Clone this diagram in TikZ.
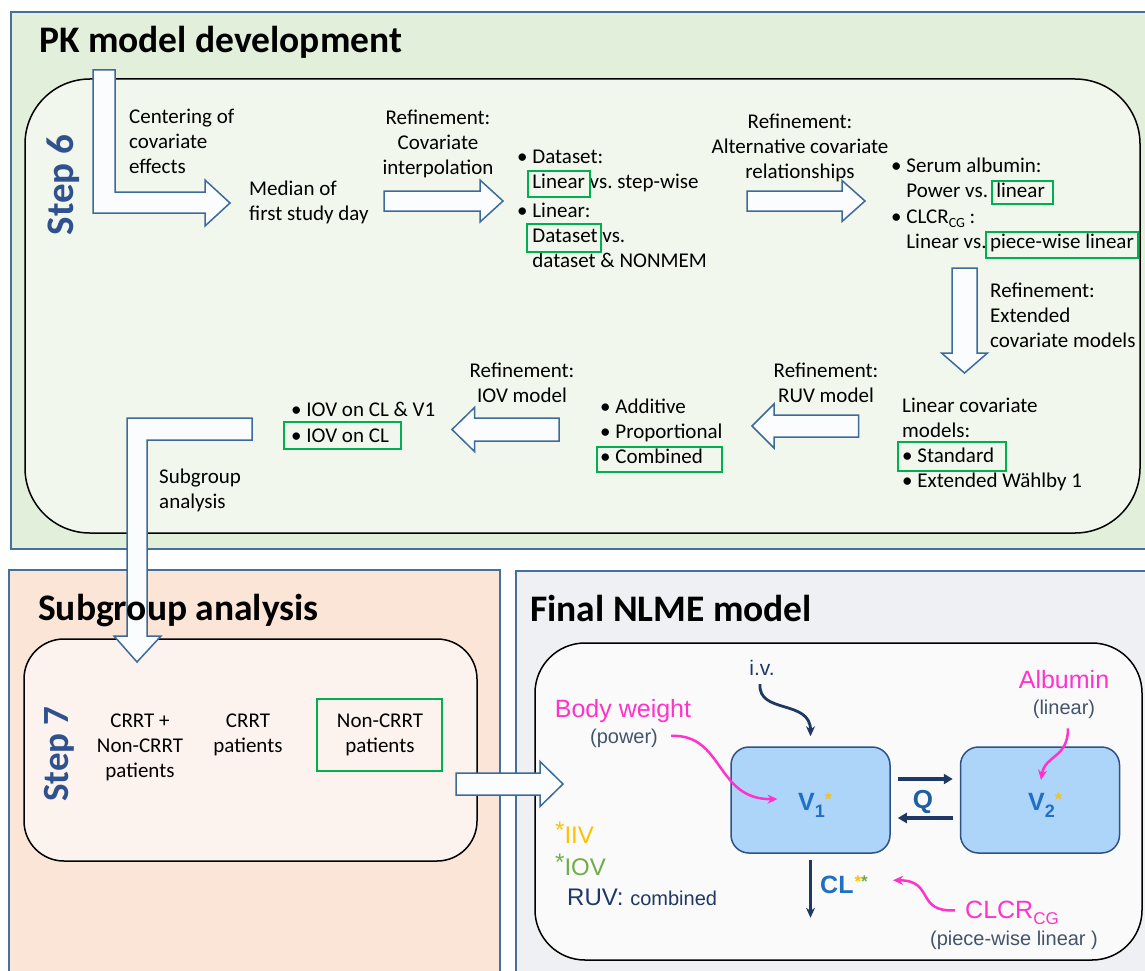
\documentclass[tikz,border=0pt]{standalone}
\usepackage{fontspec}
\setmainfont{Carlito}
\newfontfamily\arialf{Liberation Sans}
\usetikzlibrary{arrows.meta,calc}
\frenchspacing

\definecolor{panelgreen}{HTML}{E2EFDA}
\definecolor{stagegreen}{HTML}{F1F7ED}
\definecolor{panelpeach}{HTML}{FBE5D6}
\definecolor{stagepeach}{HTML}{FDF3EE}
\definecolor{panelgray}{HTML}{EEF0F4}
\definecolor{stagegray}{HTML}{FAFAFA}
\definecolor{panelblue}{HTML}{41719C}
\definecolor{arrowblue}{HTML}{3C6A9A}
\definecolor{arrowfill}{HTML}{FBFCFD}
\definecolor{pickgreen}{HTML}{00B050}
\definecolor{stepblue}{HTML}{2F528F}
\definecolor{vfill}{HTML}{ADD5FA}
\definecolor{vborder}{HTML}{2E5283}
\definecolor{vtext}{HTML}{1F6FC5}
\definecolor{qtext}{HTML}{1F5FA0}
\definecolor{navy}{HTML}{1F3864}
\definecolor{covmag}{HTML}{FF33CC}
\definecolor{subtle}{HTML}{44546A}
\definecolor{starY}{HTML}{FFC000}
\definecolor{starG}{HTML}{70AD47}

% block arrows: start x, tip x, centre y, body half-width, head half-width, head length
\newcommand{\blockright}[6]{\draw[blockarrow] (#1,{#3-#4}) -- ({#2-#6},{#3-#4}) -- ({#2-#6},{#3-#5}) -- (#2,#3) -- ({#2-#6},{#3+#5}) -- ({#2-#6},{#3+#4}) -- (#1,{#3+#4}) -- cycle;}
\newcommand{\blockleft}[6]{\draw[blockarrow] (#1,{#3-#4}) -- ({#2+#6},{#3-#4}) -- ({#2+#6},{#3-#5}) -- (#2,#3) -- ({#2+#6},{#3+#5}) -- ({#2+#6},{#3+#4}) -- (#1,{#3+#4}) -- cycle;}
% centre x, start y, tip y, body half-width, head half-width, head length
\newcommand{\blockdown}[6]{\draw[blockarrow] ({#1-#4},#2) -- ({#1+#4},#2) -- ({#1+#4},{#3-#6}) -- ({#1+#5},{#3-#6}) -- (#1,#3) -- ({#1-#5},{#3-#6}) -- ({#1-#4},{#3-#6}) -- cycle;}

\tikzset{
  body/.style={font=\fontsize{21}{25}\selectfont, inner sep=0pt},
  bodyl/.style={body, align=left, anchor=north west},
  bodyc/.style={body, align=center, anchor=north},
  heading/.style={font=\bfseries\fontsize{37.5}{42}\selectfont, inner sep=0pt, anchor=base west},
  steplabel/.style={font=\bfseries\fontsize{39}{44}\selectfont, text=stepblue, rotate=90, anchor=base, inner sep=0pt},
  panel/.style={draw=panelblue, line width=2pt},
  stagebox/.style={draw=black, line width=1.5pt},
  blockarrow/.style={draw=arrowblue, fill=arrowfill, line width=1.5pt, line join=miter},
  pick/.style={draw=pickgreen, line width=2.5pt},
  vbox/.style={draw=vborder, fill=vfill, line width=1.5pt, rounded corners=18pt, minimum width=159pt, minimum height=106pt},
  vlabel/.style={font=\arialf\bfseries\fontsize{25}{30}\selectfont, text=vtext, anchor=base, inner sep=0pt},
  maglabel/.style={font=\arialf\fontsize{25}{30}\selectfont, text=covmag, anchor=base, inner sep=0pt},
  sublabel/.style={font=\arialf\fontsize{20}{24}\selectfont, text=subtle, anchor=base, inner sep=0pt},
  legend/.style={font=\arialf\fontsize{24}{28}\selectfont, anchor=base west, inner sep=0pt},
  navyarrow/.style={draw=navy, line width=2.8pt, -{Stealth[length=10pt,width=9pt]}},
  qarrow/.style={draw=navy, line width=3.5pt, -{Triangle[length=9pt,width=10pt]}},
  magarrow/.style={draw=covmag, line width=2.5pt, -{Stealth[length=10pt,width=9pt]}},
}

\begin{document}
\begin{tikzpicture}[x=1pt,y=-1pt]
\useasboundingbox (0,0) rectangle (1145,971);
\clip (0,0) rectangle (1145,971);

% ---------- panels ----------
\draw[panel, fill=panelgreen] (11,12) rectangle (1148,549);
\draw[stagebox, fill=stagegreen, rounded corners=65pt] (25,79) rectangle (1140,533);
\draw[panel, fill=panelpeach] (9,570) rectangle (500,975);
\draw[stagebox, fill=stagepeach, rounded corners=40pt] (24,639) rectangle (477,861);
\draw[panel, fill=panelgray] (516,571) rectangle (1148,975);
\draw[stagebox, fill=stagegray, rounded corners=50pt] (535,643) rectangle (1142,960);

% ---------- block arrows ----------
\draw[blockarrow] (93,70) -- (115,70) -- (115,192) -- (205,192) -- (205,180) -- (230,203) -- (205,226) -- (205,213) -- (93,213) -- cycle;
\blockright{384}{503}{201}{10}{21}{23}
\blockright{747}{865}{201}{10}{20.5}{23}
\blockdown{964.5}{268}{373}{12.5}{23}{20}
\blockleft{858.6}{752}{426}{11}{22}{22}
\blockleft{559}{452}{429.5}{11.5}{22}{22.5}
\draw[blockarrow] (252,418) -- (252,440) -- (147,440) -- (147,636) -- (161,636) -- (137,662) -- (114,636) -- (127,636) -- (127,418) -- cycle;
\blockright{456}{563}{784}{11}{22.5}{23}

% ---------- PK model development ----------
\node[heading] (pktitle) at (39,53) {PK model development};
\node[steplabel] (step6) at (73,185) {Step 6};

\node[bodyl] (centering) at (129,105.5) {\strut Centering of\\covariate\\effects};
\node[bodyl] (median) at (249,177.5) {\strut Median of\\first study day};
\node[bodyc] (refinterp) at (438,106.5) {\strut Refinement:\\Covariate\\interpolation};
\node[bodyl] (interp) at (517,145.5) {\strut • Dataset:\\\phantom{•} Linear vs. step-wise\\[4pt]• Linear:\\\phantom{•} Dataset vs.\\\phantom{•} dataset \& NONMEM};
\node[bodyc] (refalt) at (800,110.5) {\strut Refinement:\\Alternative covariate\\relationships};
\node[bodyl] (altrel) at (891,154.5) {\strut • Serum albumin:\\\phantom{•} Power vs. \,linear\\[1pt]• CLCR\raisebox{-4pt}{\fontsize{14}{14}\selectfont CG} :\\\phantom{•} Linear vs.\,piece-wise linear};
\node[bodyl] (refext) at (990,279.5) {\strut Refinement:\\Extended\\covariate models};
\node[bodyl] (linmod) at (902,394.5) {\strut Linear covariate\\models:\\• Standard\\• Extended Wählby 1};
\node[bodyc] (refruv) at (826,359.5) {\strut Refinement:\\RUV model};
\node[bodyl] (ruvopts) at (600,395.5) {\strut • Additive\\• Proportional\\• Combined};
\node[bodyc] (refiov) at (522,359.5) {\strut Refinement:\\IOV model};
\node[bodyl] (iovopts) at (291,398.5) {\strut • IOV on CL \& V1\\[1pt]• IOV on CL};
\node[bodyl] (subgrp) at (159,465.5) {\strut Subgroup\\analysis};

% selected options
\draw[pick] (528,171) rectangle (590,197);
\draw[pick] (527,224) rectangle (601,252);
\draw[pick] (992,181) rectangle (1053,204);
\draw[pick] (986,232) rectangle (1138,258);
\draw[pick] (898,442) rectangle (1006,471);
\draw[pick] (597,447) rectangle (722,472);
\draw[pick] (284,422) rectangle (401,449);

% ---------- Subgroup analysis ----------
\node[heading] (sgtitle) at (38,620) {Subgroup analysis};
\node[steplabel, font=\bfseries\fontsize{37}{42}\selectfont] (step7) at (68,754) {Step 7};
\node[bodyc] (allpat) at (140,709.5) {\strut CRRT +\\Non-CRRT\\patients};
\node[bodyc] (crrt) at (248,709.5) {\strut CRRT\\patients};
\node[bodyc] (noncrrt) at (380,709.5) {\strut Non-CRRT\\patients};
\draw[pick] (317,699) rectangle (442,771);

% ---------- Final NLME model ----------
\node[heading] (nlmetitle) at (530,621) {Final NLME model};

\node[vbox] (v1) at (810.5,800) {};
\node[vbox] (v2) at (1040,800) {};
\node[vlabel] (v1t) at (815,810) {V\raisebox{-7pt}{\fontsize{18}{18}\selectfont 1}\raisebox{5pt}{\fontsize{18}{18}\selectfont\color{starY}*}};
\node[vlabel] (v2t) at (1045,810) {V\raisebox{-7pt}{\fontsize{18}{18}\selectfont 2}\raisebox{5pt}{\fontsize{18}{18}\selectfont\color{starY}*}};
\node[vlabel, text=qtext, font=\arialf\bfseries\fontsize{26}{30}\selectfont] (q) at (923,808) {Q};
\draw[qarrow] ($(v1.east)+(7,-21)$) -- ($(v2.west)+(-7,-21)$);
\draw[qarrow] ($(v2.west)+(-7,18)$) -- ($(v1.east)+(7,18)$);

\node[sublabel, text=navy, font=\arialf\fontsize{21}{24}\selectfont] (iv) at (762,675) {i.v.};
\draw[navyarrow] ($(iv.south)+(-2,9)$) .. controls +(-2,30) and +(0,-37) .. ($(v1.north)+(0,-10)$);

\node[maglabel] (bw) at (623,717) {Body weight};
\node[sublabel] (bwp) at (624,743) {(power)};
\draw[magarrow] ($(bwp.east)+(13,-2)$) .. controls +(53,-2) and +(-62,1) .. ($(v1.center)+(-33,-1)$);

\node[maglabel] (alb) at (1064,688) {Albumin};
\node[sublabel] (albp) at (1064,714) {(linear)};
\draw[magarrow] ($(albp.south)+(4,10)$) .. controls +(0,30) and +(4,-25) .. ($(v2.center)+(1,-20)$);

\coordinate (clout) at ($(v1.south)+(0,64)$);
\draw[navyarrow] ($(v1.south)+(0,6)$) -- (clout);
\node[vlabel, anchor=base west] (cl) at (820,893) {CL\hspace{1pt}\raisebox{6pt}{\fontsize{17}{17}\selectfont\color{starY}*\color{starG}*}};

\node[maglabel, anchor=base west] (clcr) at (965,918) {CLCR\raisebox{-6pt}{\fontsize{17}{17}\selectfont CG}};
\node[sublabel] (clcrp) at (1014,945) {(piece-wise linear )};
\draw[magarrow] ($(clcr.west)+(-10,-2)$) .. controls +(-40,2) and +(42,0) .. ($(cl.east)+(25,-4)$);

\node[legend, text=starY] (iiv) at (555,843) {\raisebox{5pt}{*}IIV};
\node[legend, text=starG] (iov) at (555,875) {\raisebox{5pt}{*}IOV};
\node[legend, text=navy] (ruv) at (567,905) {RUV: {\fontsize{20}{24}\selectfont combined}};
\end{tikzpicture}
\end{document}
